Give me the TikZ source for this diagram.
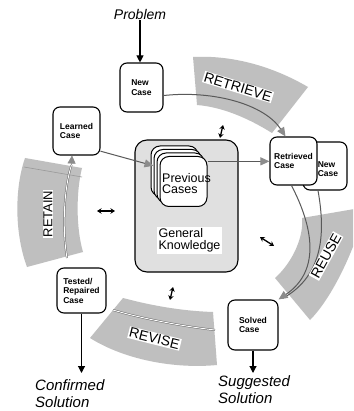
\documentclass[tikz,border=0pt]{standalone}
\usepackage{fontspec}
\setmainfont{Liberation Sans}
\usetikzlibrary{arrows.meta,calc}
\begin{document}
\begin{tikzpicture}[x=1pt,y=-1pt,
  casebox/.style={draw, line width=1.1pt, rounded corners=7pt, fill=white, inner sep=1pt, align=left, font=\fontsize{8.5}{9.5}\selectfont\bfseries},
  band/.style={fill=black!25},
  bandtext/.style={fill=white, inner sep=1pt, font=\fontsize{14}{14}\selectfont},
  io/.style={font=\fontsize{15}{17}\selectfont\itshape, align=left, inner sep=0pt},
  inarrow/.style={line width=1.1pt, -{Triangle[length=7pt,width=7pt]}},
  flow/.style={draw=black!65, line width=1pt, -{Triangle[length=9pt,width=8pt,color=black!45]}},
  twin/.style={line width=1.3pt, {Stealth[length=4.5pt,width=5.5pt]}-{Stealth[length=4.5pt,width=5.5pt]}},
  card/.style={draw, line width=1pt, rounded corners=9pt, fill=white, minimum width=47pt, minimum height=50pt},
  splitline/.style={draw=black!60, line width=0.5pt, double=white, double distance=0.9pt}
]
\clip (0,0) rectangle (353,411);
\fill[white] (0,0) rectangle (353,411);

% bands
\fill[band] (193,57) .. controls (232,55) and (272,66) .. (308,87) -- (272,133) .. controls (248,118) and (222,107) .. (197,105) -- cycle;
\fill[band] (302,218) .. controls (304,236) and (293,262) .. (275,278) -- (310,320) .. controls (332,298) and (355,250) .. (366,207) -- cycle;
\fill[band] (123,298) .. controls (153,306) and (183,311) .. (213,312) -- (217,365) .. controls (175,369) and (125,360) .. (90,338) -- cycle;
\fill[band] (25,158) .. controls (14,190) and (15,235) .. (27,267) -- (83,252) .. controls (76,228) and (76,192) .. (82,168) -- cycle;
\draw[black!40, line width=0.6pt] (24,167) -- (82,177);
\draw[splitline] (113,310) .. controls (140,318) and (180,326) .. (215,330);

% central knowledge box
\node[draw, line width=1.1pt, rounded corners=12pt, fill=black!12, minimum width=103pt, minimum height=132pt] (gk) at (186.5,206) {};
\foreach \k in {0,...,3} \node[card] (card\k) at ({174.5+3*\k},{171+3.5*\k}) {};
\node[font=\fontsize{12.5}{11}\selectfont, align=left, inner sep=0pt, anchor=west] (prevtext) at (162,184) {Previous\\Cases};
\node[fill=white, inner sep=2pt, align=left, font=\fontsize{12.5}{12}\selectfont] (gktext) at (189.5,240.5) {General\\Knowledge};

% case boxes
\node[io, font=\fontsize{14}{16}\selectfont\itshape] (problem) at (140,15) {Problem};
\node[casebox, minimum width=43pt, minimum height=49pt] (newcase) at (141.5,87.5) {New\\Case};
\node[casebox, minimum width=47pt, minimum height=48pt] (learned) at (76.5,131) {Learned\\Case};
\node[casebox, minimum width=44pt, minimum height=48pt] (newcase2) at (325,166) {};
\node[align=left, inner sep=0pt, font=\fontsize{8.5}{9.5}\selectfont\bfseries] (nc2text) at (328,169) {New\\Case};
\node[casebox, minimum width=47pt, minimum height=48pt] (retrieved) at (293.5,161) {Retrieved\\Case};
\node[casebox, minimum width=49pt, minimum height=45pt] (tested) at (81.5,290.5) {Tested/\\Repaired\\Case};
\node[casebox, minimum width=50pt, minimum height=50pt] (solved) at (253,325) {Solved\\Case};
\node[io, anchor=north west] (confirmed) at (35,379) {Confirmed\\Solution};
\node[io, anchor=north west] (suggested) at (218,375) {Suggested\\Solution};

% connectors
\draw[inarrow] (problem.south) -- (problem.south |- newcase.north);
\draw[flow] (newcase.-20) .. controls (215,90) and (265,105) .. ([xshift=-8pt]retrieved.north);
\draw[flow] (learned.-40) -- (card1.160);
\draw[flow] (card3.40) -- (card3.40 -| retrieved.west);
\draw[draw=black!65, line width=1pt] ([xshift=-7pt]newcase2.south) .. controls (325,230) and (325,275) .. ([shift={(4pt,1pt)}]solved.north east);
\draw[flow] ([xshift=-2pt]retrieved.south) .. controls (312,225) and (322,270) .. (solved.north east);
\draw[inarrow] (solved.south) -- ([yshift=2pt]solved.south |- suggested.north);
\draw[inarrow] (tested.south) -- ([yshift=6pt]tested.south |- confirmed.north);
\coordinate (retainstart) at (67,258);
\coordinate (retainmid) at (71.5,165);
\draw[splitline] (retainstart) .. controls (62,228) and (64,188) .. (retainmid);
\draw[-{Triangle[length=8pt,width=8pt,color=black!45]}, black!55, line width=0.5pt] (retainmid) -- ([xshift=-4.5pt]learned.south);

% double arrows
\coordinate (d1a) at (223,125); \coordinate (d1b) at (220,138);
\coordinate (d2a) at (97,211); \coordinate (d2b) at (115,211);
\coordinate (d3a) at (260,237); \coordinate (d3b) at (274,246);
\coordinate (d4a) at (173,287); \coordinate (d4b) at (170,300);
\draw[twin] (d1a) -- (d1b);
\draw[twin] (d2a) -- (d2b);
\draw[twin] (d3a) -- (d3b);
\draw[twin] (d4a) -- (d4b);

% band labels
\node[bandtext, rotate=-17] (lretrieve) at (238,87) {RETRIEVE};
\node[bandtext, rotate=61] (lreuse) at (326,256) {REUSE};
\node[bandtext, rotate=-14] (lrevise) at (154.5,338.5) {REVISE};
\node[bandtext, rotate=90, font=\fontsize{13}{13}\selectfont] (lretain) at (48,214) {RETAIN};
\end{tikzpicture}
\end{document}
